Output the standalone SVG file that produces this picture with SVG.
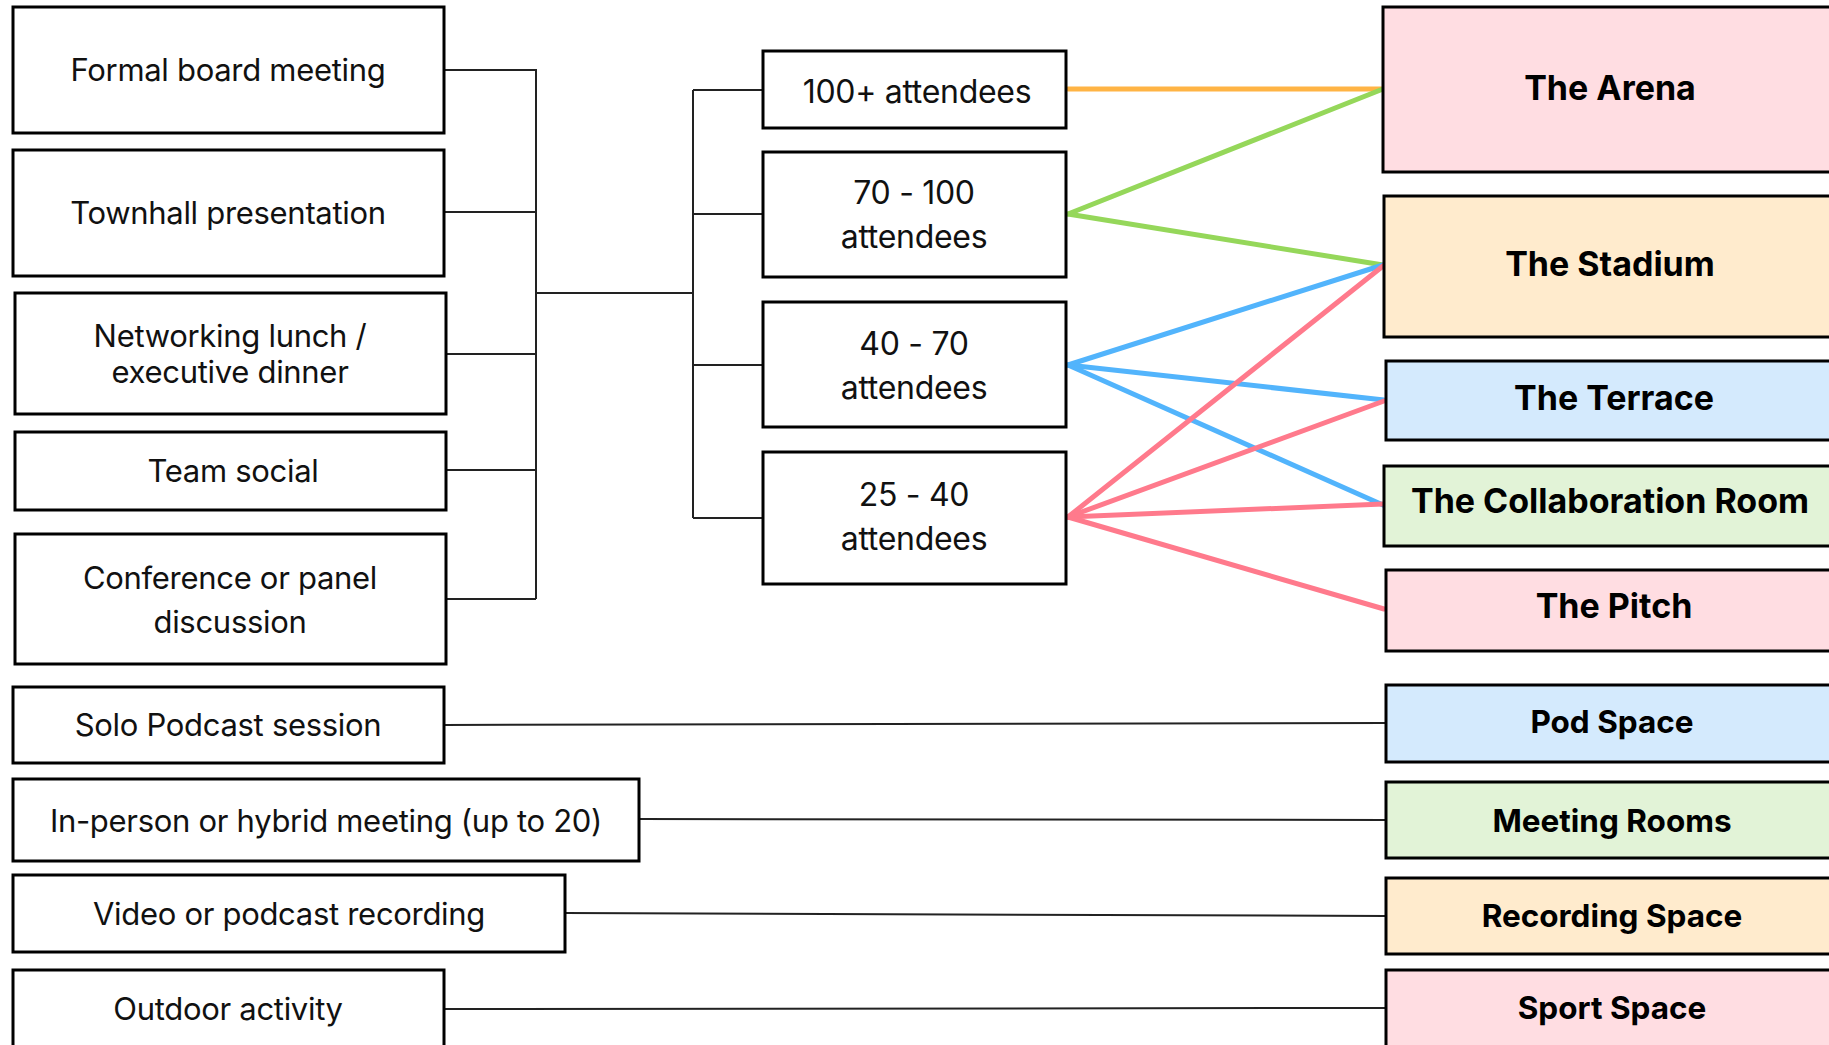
<svg xmlns="http://www.w3.org/2000/svg" width="1829" height="1045" viewBox="0 0 1829 1045">
<style>
.b{fill:#fff;stroke:#000;stroke-width:3}
.t{font-family:Inter,"Noto Sans",sans-serif;font-size:31px;letter-spacing:-0.3px;fill:#111;text-anchor:middle}
.m{font-family:Inter,"Noto Sans",sans-serif;font-size:32px;letter-spacing:-0.3px;fill:#111;text-anchor:middle}
.h{font-family:Inter,"Noto Sans",sans-serif;font-weight:700;font-size:34px;fill:#000;text-anchor:middle}
.h2{font-family:Inter,"Noto Sans",sans-serif;font-weight:700;font-size:31.5px;fill:#000;text-anchor:middle}
.k{fill:none;stroke:#222;stroke-width:2}
.c{fill:none;stroke-width:5;stroke-linecap:round}
.pk{fill:#FFDDE2}.or{fill:#FFEBCD}.bl{fill:#D4EAFD}.gr{fill:#E2F3D7}
</style>
<rect width="1829" height="1045" fill="#fff"/>
<g id="connectors">
<path class="k" d="M444 70H536V599M444 212H536M446 354H536M446 470H536M446 599H536M536 293H693M693 90V518M693 90H763M693 214H763M693 365H763M693 518H763"/>
<path class="k" d="M444 725L1386 723M639 819L1386 820M565 913L1386 916M444 1009L1386 1008"/>
<line class="c" stroke="#FFB444" x1="1068" y1="89" x2="1383" y2="89"/>
<line class="c" stroke="#95D75A" x1="1068" y1="214" x2="1383" y2="89"/>
<line class="c" stroke="#95D75A" x1="1068" y1="214" x2="1383" y2="265"/>
<line class="c" stroke="#52B4FC" x1="1068" y1="365" x2="1383" y2="265"/>
<line class="c" stroke="#52B4FC" x1="1068" y1="365" x2="1384" y2="400"/>
<line class="c" stroke="#52B4FC" x1="1068" y1="365" x2="1383" y2="505"/>
<line class="c" stroke="#FF7A8C" x1="1068" y1="517" x2="1383" y2="266"/>
<line class="c" stroke="#FF7A8C" x1="1068" y1="517" x2="1384" y2="401"/>
<line class="c" stroke="#FF7A8C" x1="1068" y1="517" x2="1383" y2="504"/>
<line class="c" stroke="#FF7A8C" x1="1068" y1="517" x2="1384" y2="609"/>
</g>
<g id="n-formal"><rect class="b" x="13" y="7" width="431" height="126"/><text class="t" x="228" y="81">Formal board meeting</text></g>
<g id="n-townhall"><rect class="b" x="13" y="150" width="431" height="126"/><text class="t" x="228" y="224">Townhall presentation</text></g>
<g id="n-networking"><rect class="b" x="15" y="293" width="431" height="121"/><text class="t" x="230" y="347">Networking lunch /</text><text class="t" x="230" y="383">executive dinner</text></g>
<g id="n-team"><rect class="b" x="15" y="432" width="431" height="78"/><text class="t" x="233" y="482">Team social</text></g>
<g id="n-conference"><rect class="b" x="15" y="534" width="431" height="130"/><text class="t" x="230" y="589">Conference or panel</text><text class="t" x="230" y="633">discussion</text></g>
<g id="n-solo"><rect class="b" x="13" y="687" width="431" height="76"/><text class="t" x="228" y="736">Solo Podcast session</text></g>
<g id="n-inperson"><rect class="b" x="13" y="779" width="626" height="82"/><text class="t" x="326" y="832">In-person or hybrid meeting (up to 20)</text></g>
<g id="n-video"><rect class="b" x="13" y="875" width="552" height="77"/><text class="t" x="289" y="925">Video or podcast recording</text></g>
<g id="n-outdoor"><rect class="b" x="13" y="970" width="431" height="90"/><text class="t" x="228" y="1020">Outdoor activity</text></g>
<g id="n-100"><rect class="b" x="763" y="51" width="303" height="77"/><text class="m" x="917" y="103">100+ attendees</text></g>
<g id="n-70"><rect class="b" x="763" y="152" width="303" height="125"/><text class="m" x="914" y="204">70 - 100</text><text class="m" x="914" y="248">attendees</text></g>
<g id="n-40"><rect class="b" x="763" y="302" width="303" height="125"/><text class="m" x="914" y="355">40 - 70</text><text class="m" x="914" y="399">attendees</text></g>
<g id="n-25"><rect class="b" x="763" y="452" width="303" height="132"/><text class="m" x="914" y="506">25 - 40</text><text class="m" x="914" y="550">attendees</text></g>
<g id="n-arena"><rect class="b pk" x="1383" y="7" width="460" height="165"/><text class="h" x="1610" y="100">The Arena</text></g>
<g id="n-stadium"><rect class="b or" x="1384" y="196" width="460" height="141"/><text class="h" x="1610" y="276">The Stadium</text></g>
<g id="n-terrace"><rect class="b bl" x="1386" y="361" width="460" height="79"/><text class="h" x="1614" y="410">The Terrace</text></g>
<g id="n-collab"><rect class="b gr" x="1384" y="466" width="460" height="80"/><text class="h" x="1610" y="513">The Collaboration Room</text></g>
<g id="n-pitch"><rect class="b pk" x="1386" y="570" width="460" height="81"/><text class="h" x="1614" y="618">The Pitch</text></g>
<g id="n-pod"><rect class="b bl" x="1386" y="685" width="460" height="77"/><text class="h2" x="1612" y="733">Pod Space</text></g>
<g id="n-meeting"><rect class="b gr" x="1386" y="782" width="460" height="76"/><text class="h2" x="1612" y="832">Meeting Rooms</text></g>
<g id="n-recording"><rect class="b or" x="1386" y="878" width="460" height="76"/><text class="h2" x="1612" y="927">Recording Space</text></g>
<g id="n-sport"><rect class="b pk" x="1386" y="970" width="460" height="90"/><text class="h2" x="1612" y="1019">Sport Space</text></g>
</svg>
